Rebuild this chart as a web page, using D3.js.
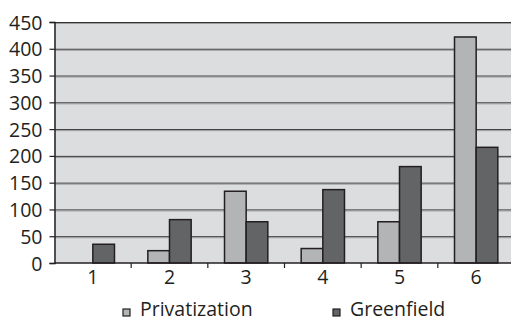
<!DOCTYPE html>
<html>
<head>
<meta charset="utf-8">
<script src="https://cdn.jsdelivr.net/npm/d3@7"></script>
<style>
  html, body { margin: 0; padding: 0; background: #fff; }
  svg { display: block; }
  text { font-family: "Open Sans", "DejaVu Sans", sans-serif; fill: #231f20; }
</style>
</head>
<body>
<svg id="chart" width="511" height="321"></svg>
<script>
// Projects by entry mode, grouped into six categories
const categories = ["1", "2", "3", "4", "5", "6"];
const privatization = [0, 23, 134, 27, 77, 422];
const greenfield = [35, 81, 77, 137, 180, 216];
const seriesNames = ["Privatization", "Greenfield"];
const yTicks = [0, 50, 100, 150, 200, 250, 300, 350, 400, 450];

const colors = { Privatization: "#b3b4b6", Greenfield: "#636466" };

const svg = d3.select("#chart");
const plot = { left: 54.5, right: 514.5, top: 22, bottom: 263 };

const x = d3.scaleBand().domain(categories).range([plot.left, plot.right]).paddingInner(0).paddingOuter(0);
const groupWidth = x.bandwidth() * 0.565;
const xInner = d3.scaleBand().domain(seriesNames).range([0, groupWidth]);
const y = d3.scaleLinear().domain([0, 450]).range([plot.bottom, plot.top]);

// plot background
svg.append("rect")
  .attr("x", plot.left).attr("y", plot.top)
  .attr("width", plot.right - plot.left).attr("height", plot.bottom - plot.top)
  .attr("fill", "#dcdddf");

// horizontal gridlines (dark line with a soft lighter edge)
const gridVals = yTicks.filter(d => d > 0);
const grid = svg.append("g");
grid.selectAll("line.g1").data(gridVals).join("line")
  .attr("class", "g1")
  .attr("x1", plot.left).attr("x2", plot.right)
  .attr("y1", d => y(d) + 0.5).attr("y2", d => y(d) + 0.5)
  .attr("stroke", "#333132").attr("stroke-width", 1);
grid.selectAll("line.g2").data(gridVals).join("line")
  .attr("class", "g2")
  .attr("x1", plot.left).attr("x2", plot.right)
  .attr("y1", d => y(d) + 1.5).attr("y2", d => y(d) + 1.5)
  .attr("stroke", "#9a9b9d").attr("stroke-width", 1);

// bars
const rows = categories.map((c, i) => ({ cat: c, Privatization: privatization[i], Greenfield: greenfield[i] }));
const groups = svg.append("g").selectAll("g").data(rows).join("g")
  .attr("transform", d => `translate(${x(d.cat) + (x.bandwidth() - groupWidth) / 2},0)`);
groups.selectAll("rect")
  .data(d => seriesNames.map(s => ({ key: s, value: d[s] })).filter(v => v.value > 0))
  .join("rect")
  .attr("x", d => xInner(d.key))
  .attr("width", xInner.bandwidth())
  .attr("y", d => y(d.value))
  .attr("height", d => y(0) - y(d.value))
  .attr("fill", d => colors[d.key])
  .attr("stroke", "#231f20")
  .attr("stroke-width", 1.5);

// y axis
const yAxis = d3.axisLeft(y).tickValues(yTicks).tickSize(5).tickPadding(7);
const gy = svg.append("g").attr("transform", `translate(${plot.left},0)`).call(yAxis);
gy.select(".domain").attr("stroke", "#231f20").attr("stroke-width", 1.5);
gy.selectAll(".tick line").attr("stroke", "#231f20").attr("stroke-width", 1.2);
gy.selectAll(".tick text")
  .attr("font-size", 19.5)
  .attr("dy", "0.36em")
  .style("font-family", '"Open Sans", sans-serif')
  .attr("fill", "#231f20");

// x axis with ticks between categories
const gx = svg.append("g").attr("transform", `translate(0,${plot.bottom})`);
gx.append("line").attr("x1", plot.left).attr("x2", plot.right)
  .attr("stroke", "#231f20").attr("stroke-width", 1.5);
gx.selectAll("line.t").data(categories.slice(1)).join("line")
  .attr("class", "t")
  .attr("x1", d => x(d)).attr("x2", d => x(d))
  .attr("y1", 0).attr("y2", 5)
  .attr("stroke", "#231f20").attr("stroke-width", 1.2);
gx.selectAll("text").data(categories).join("text")
  .attr("x", d => x(d) + x.bandwidth() / 2)
  .attr("y", 20.5)
  .attr("text-anchor", "middle")
  .attr("font-size", 19.5)
  .text(d => d);

// legend
const legendItems = [
  { name: "Privatization", x: 123 },
  { name: "Greenfield", x: 333 }
];
const lg = svg.append("g").selectAll("g").data(legendItems).join("g")
  .attr("transform", d => `translate(${d.x},309)`);
lg.append("rect").attr("width", 7).attr("height", 7)
  .attr("fill", d => colors[d.name]).attr("stroke", "#231f20").attr("stroke-width", 1.2);
lg.append("text").attr("x", 17).attr("y", 6.5).attr("font-size", 19.5).text(d => d.name);
</script>
</body>
</html>
